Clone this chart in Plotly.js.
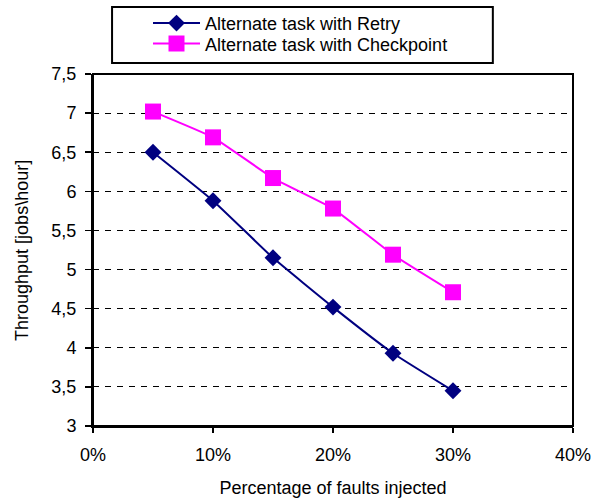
<!DOCTYPE html>
<html><head><meta charset="utf-8">
<script src="https://cdn.plot.ly/plotly-3.0.1.min.js"></script>
<style>html,body{margin:0;padding:0;background:#fff}#chart{width:598px;height:498px}</style>
</head><body><div id="chart"></div>
<script>
const faults = [0.05, 0.10, 0.15, 0.20, 0.25, 0.30];
const retry = [6.50, 5.88, 5.15, 4.52, 3.93, 3.45];
const checkpoint = [7.02, 6.69, 6.17, 5.78, 5.19, 4.71];
const names = ['Alternate task with Retry', 'Alternate task with Checkpoint'];
const xTicks = [0, 0.1, 0.2, 0.3, 0.4];
const xTickText = ['0%', '10%', '20%', '30%', '40%'];
const yTicks = [3, 3.5, 4, 4.5, 5, 5.5, 6, 6.5, 7, 7.5];
const xTitle = 'Percentage of faults injected';
const yTitle = 'Throughput [jobs\\hour]';

const font = {family: 'Liberation Sans, Arial, sans-serif', size: 18, color: '#000'};
const legFont = {family: 'Liberation Sans, Arial, sans-serif', size: 18, color: '#000'};

const traces = [
  {x: faults, y: retry, name: names[0], type: 'scatter', mode: 'lines+markers', legend: 'legend',
   line: {color: '#000080', width: 2, shape: 'spline', smoothing: 0.4},
   marker: {symbol: 'diamond', size: 13, color: '#000080'}},
  {x: faults, y: checkpoint, name: names[1], type: 'scatter', mode: 'lines+markers', legend: 'legend2',
   line: {color: '#FF00FF', width: 2, shape: 'spline', smoothing: 0.4},
   marker: {symbol: 'square', size: 16, color: '#FF00FF'}}
];

const legBase = {xref: 'container', yref: 'container', xanchor: 'left', yanchor: 'middle',
                 bgcolor: 'rgba(0,0,0,0)', borderwidth: 0, font: legFont, itemwidth: 47};

const layout = {
  width: 598, height: 498,
  margin: {l: 93, r: 25, t: 74, b: 72, autoexpand: false},
  paper_bgcolor: '#fff', plot_bgcolor: '#fff',
  font: font,
  separators: ', ',
  showlegend: true,
  legend: Object.assign({x: 0.2475, y: 0.953}, legBase),
  legend2: Object.assign({x: 0.2475, y: 0.912}, legBase),
  xaxis: {range: [0, 0.4], tickvals: xTicks, ticktext: xTickText,
          showgrid: false, zeroline: false, showline: true, linecolor: '#000', linewidth: 2,
          mirror: false, ticks: 'outside', ticklen: 5, tickwidth: 1.5, tickcolor: '#000',
          tickfont: font, fixedrange: true, ticklabelstandoff: 6,
          title: {text: xTitle, font: font, standoff: 18}},
  yaxis: {range: [3, 7.5], tickvals: yTicks, tickformat: '.1~f',
          showgrid: true, gridcolor: '#000', griddash: '6px,6px', gridwidth: 1,
          zeroline: false, showline: true, linecolor: '#000', linewidth: 2,
          ticks: 'outside', ticklen: 6, tickwidth: 1.5, tickcolor: '#000',
          tickfont: font, fixedrange: true, ticklabelstandoff: 5},
  annotations: [
    {text: yTitle, xref: 'paper', yref: 'paper', x: -0.148, y: 0.5, xanchor: 'center', yanchor: 'middle',
     textangle: -90, showarrow: false, font: font}
  ],
  shapes: [
    {type: 'rect', xref: 'paper', yref: 'paper', x0: 0, x1: 1, y0: 0, y1: 1,
     line: {color: '#000', width: 2}, fillcolor: 'rgba(0,0,0,0)'},
    {type: 'rect', xref: 'paper', yref: 'paper', x0: 0.0397, x1: 0.833, y0: 1.031, y1: 1.190,
     line: {color: '#000', width: 2}, fillcolor: 'rgba(0,0,0,0)'}
  ]
};

Plotly.newPlot('chart', traces, layout, {displayModeBar: false, staticPlot: true});
</script></body></html>
